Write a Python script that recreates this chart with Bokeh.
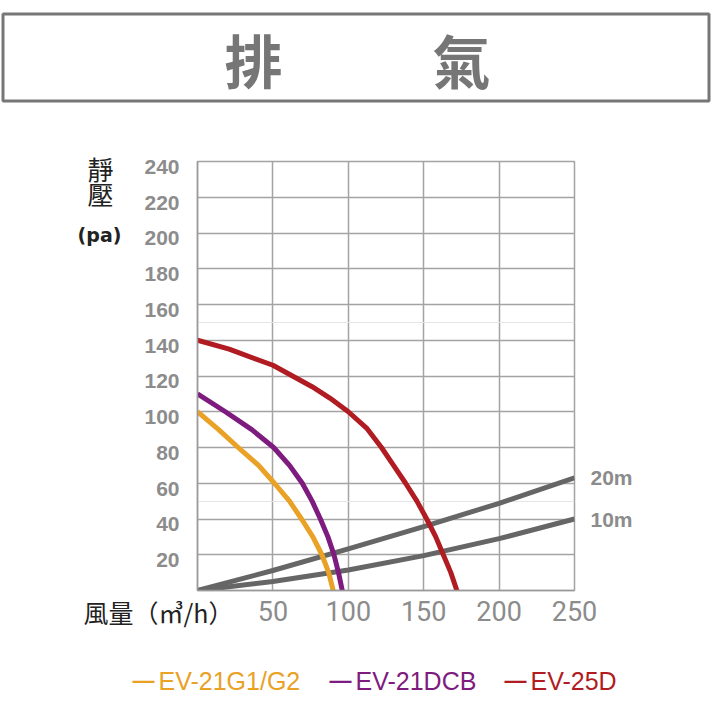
from bokeh.plotting import figure
from bokeh.layouts import column
from bokeh.models import FixedTicker, Range1d, LinearAxis, Grid
from bokeh.core.properties import value
from bokeh.embed import file_html
from bokeh.resources import INLINE

# ---------------- data ----------------
title_chars = ["排", "氣"]
x_ticks = [50, 100, 150, 200, 250]
y_ticks = [20, 40, 60, 80, 100, 120, 140, 160, 180, 200, 220, 240]

# fan curves (flow m3/h, static pressure pa)
g1_flow = [0, 14, 27, 40.5, 51, 61, 69, 76.5, 82.5, 87, 90]
g1_pres = [100, 90, 80, 70, 60, 50, 40, 30, 20, 10, 0]

dcb_flow = [0, 18.5, 36, 50.5, 61, 69.5, 76, 81.5, 86.5, 90.5, 93.5, 96]
dcb_pres = [110, 100, 90, 80, 70, 60, 50, 40, 30, 20, 10, 0]

d25_flow = [0, 21, 50, 76, 88, 100, 112.5, 122, 130, 138, 145.5, 152, 158, 163, 168, 172]
d25_pres = [140, 135, 126, 114, 107.5, 100, 90.5, 80, 70, 60, 50, 40, 30, 20, 10, 0]

# duct resistance curves
duct_flow = [0, 50, 100, 150, 200, 250]
duct20_pres = [0, 11.2, 23.3, 35.7, 48.8, 63]
duct10_pres = [0, 5, 11.5, 19.5, 29, 40]

series_names = ["EV-21G1/G2", "EV-21DCB", "EV-25D"]
series_colors = ["#E9A126", "#7D1B7E", "#B01C22"]
duct_names = ["20m", "10m"]
y_title = ["靜", "壓"]
y_unit = "(pa)"
x_title = "風量（㎥/h）"

GRAY_TXT = "#8c8c8c"
CJK = "Noto Sans CJK TC"
W = H = 711

# ---------------- chart ----------------
FL, FR, FT, FB = 197, 574, 161, 590   # frame edges in page pixels
p = figure(width=W, height=H, x_range=Range1d(0, 250), y_range=Range1d(0, 240),
           min_border_left=FL, min_border_right=W - FR, min_border_top=FT,
           min_border_bottom=H - FB, output_backend="svg", toolbar_location=None,
           y_axis_location=None)
p.frame_align = False

p.xaxis.ticker = FixedTicker(ticks=x_ticks)
p.xaxis.major_tick_line_color = None
p.xaxis.minor_tick_line_color = None
p.xaxis.major_tick_out = 0
p.xaxis.major_tick_in = 0
p.xaxis.axis_line_color = "#9a9a9a"
p.xaxis.axis_line_width = 1.5
p.xaxis.major_label_text_font = "Roboto"
p.xaxis.major_label_text_font_size = "27px"
p.xaxis.major_label_text_color = GRAY_TXT
p.xaxis.major_label_standoff = 10

p.xgrid.grid_line_color = "#a3a3a3"
p.xgrid.grid_line_width = 1.5
p.add_layout(Grid(dimension=1, ticker=FixedTicker(ticks=y_ticks),
                  grid_line_color="#a3a3a3", grid_line_width=1.5))
p.outline_line_color = "#a3a3a3"
p.outline_line_width = 1.5

# y axis: labels sit slightly below their grid lines in the original
shift = 3.0
p.extra_y_ranges = {"lab": Range1d(shift, 240 + shift)}
yax = LinearAxis(y_range_name="lab", ticker=FixedTicker(ticks=y_ticks),
                 axis_line_color="#9a9a9a", axis_line_width=1.5,
                 major_tick_line_color=None, minor_tick_line_color=None,
                 major_tick_out=0, major_tick_in=0,
                 major_label_text_font="Liberation Sans", major_label_text_font_size="21px",
                 major_label_text_font_style="bold", major_label_text_color=GRAY_TXT,
                 major_label_standoff=18)
p.add_layout(yax, "left")

# right axis labelling the duct curves at their end values
rax = LinearAxis(ticker=FixedTicker(ticks=[duct20_pres[-1], duct10_pres[-1]]),
                 major_label_overrides={duct20_pres[-1]: duct_names[0], duct10_pres[-1]: duct_names[1]},
                 axis_line_color=None, major_tick_line_color=None, minor_tick_line_color=None,
                 major_tick_out=0, major_tick_in=0,
                 major_label_text_font="Liberation Sans", major_label_text_font_size="21px",
                 major_label_text_font_style="bold", major_label_text_color=GRAY_TXT,
                 major_label_standoff=16)
p.add_layout(rax, "right")

# duct curves (drawn under fan curves)
for ys in (duct20_pres, duct10_pres):
    p.line(duct_flow, ys, line_color="#666666", line_width=5, line_join="round")

for xs, ys, col in zip([g1_flow, dcb_flow, d25_flow], [g1_pres, dcb_pres, d25_pres], series_colors):
    p.line(xs, ys, line_color=col, line_width=5, line_join="round")

# ---------------- transparent text overlay (page pixel coordinates) ----------------
ov = figure(width=W, height=H, x_range=Range1d(0, W), y_range=Range1d(H, 0),
            min_border=0, x_axis_location=None, y_axis_location=None,
            output_backend="svg", toolbar_location=None,
            background_fill_color=None, border_fill_color=None,
            styles={"position": "absolute", "left": "0px", "top": "0px"})
ov.frame_align = False
ov.grid.visible = False
ov.outline_line_color = None

# title box
ov.quad(left=[2.5], right=[708.5], top=[13.5], bottom=[100.5],
        fill_color=None, line_color="#767676", line_width=3)
ov.text(x=[253, 461], y=[58, 58], text=title_chars, text_font=value(CJK),
        text_font_size="58px", text_font_style="bold", text_color="#767676",
        text_align="center", text_baseline="middle")

# y axis title
ov.text(x=[100, 100], y=[168, 193], text=y_title, text_font=value(CJK),
        text_font_size="26px", text_color="#222222",
        text_align="center", text_baseline="middle")
ov.text(x=[99], y=[234], text=[y_unit], text_font=value("DejaVu Sans"),
        text_font_size="19px", text_font_style="bold", text_color="#222222",
        text_align="center", text_baseline="middle")

# x axis title
ov.text(x=[83], y=[611], text=[x_title], text_font=value(CJK),
        text_font_size="25px", text_color="#222222",
        text_align="left", text_baseline="middle")

# legend: short coloured dash + coloured name
ov.text(x=[132, 329, 504], y=[680, 680, 680], text=["—", "—", "—"],
        text_font=value("Liberation Sans"), text_font_size="22px", text_font_style="bold",
        text_color=series_colors, text_align="left", text_baseline="middle")
ov.text(x=[158, 355, 530], y=[680, 680, 680], text=series_names,
        text_font=value("Liberation Sans"), text_font_size="25px", text_color=series_colors,
        text_align="left", text_baseline="middle")

layout = column(p, ov, spacing=0)
open("out.html", "w").write(file_html(layout, INLINE))
